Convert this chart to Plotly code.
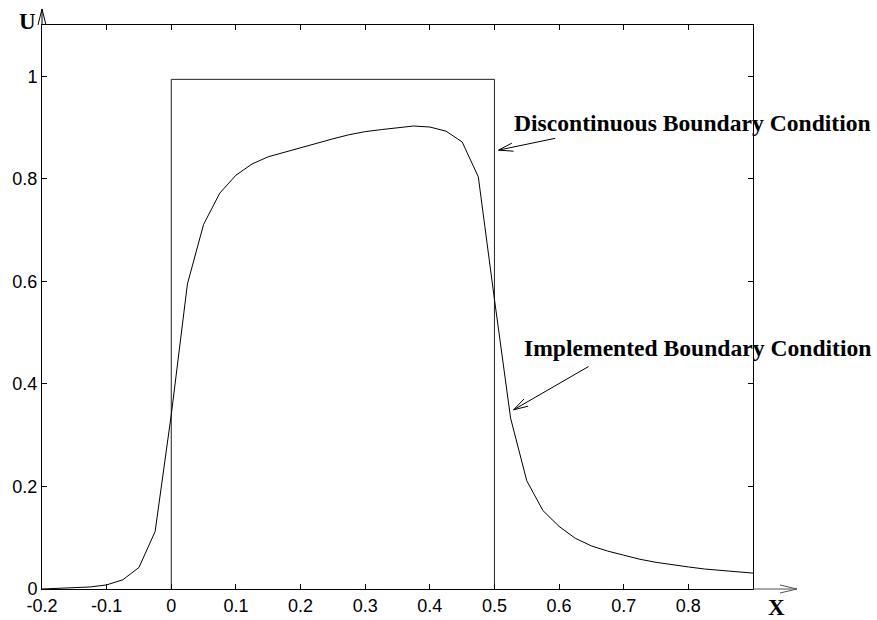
import math
import plotly.graph_objects as go

# ---- data ----
x_curve = [-0.2, -0.175, -0.15, -0.125, -0.1, -0.075, -0.05, -0.025, 0.0,
           0.025, 0.05, 0.075, 0.1, 0.125, 0.15, 0.175, 0.2, 0.225, 0.25,
           0.275, 0.3, 0.325, 0.35, 0.375, 0.4, 0.425, 0.45, 0.475, 0.5,
           0.525, 0.55, 0.575, 0.6, 0.625, 0.65, 0.675, 0.7, 0.725, 0.75,
           0.775, 0.8, 0.825, 0.85, 0.875, 0.9]
u_curve = [0.000, 0.001, 0.002, 0.004, 0.008, 0.018, 0.042, 0.112, 0.340,
           0.595, 0.711, 0.772, 0.807, 0.829, 0.843, 0.852, 0.860, 0.870, 0.878,
           0.886, 0.892, 0.896, 0.900, 0.903, 0.901, 0.893, 0.872, 0.804, 0.565,
           0.333, 0.211, 0.153, 0.122, 0.099, 0.084, 0.074, 0.066, 0.058, 0.052,
           0.047, 0.043, 0.039, 0.036, 0.033, 0.031]

x_square = [0.0, 0.0, 0.5, 0.5]
u_square = [0.0, 0.994, 0.994, 0.0]

x_ticks = [-0.2, -0.1, 0.0, 0.1, 0.2, 0.3, 0.4, 0.5, 0.6, 0.7, 0.8]
x_ticklabels = ["-0.2", "-0.1", "0", "0.1", "0.2", "0.3", "0.4", "0.5", "0.6", "0.7", "0.8"]
y_ticks = [0, 0.2, 0.4, 0.6, 0.8, 1.0]
y_ticklabels = ["0", "0.2", "0.4", "0.6", "0.8", "1"]

X_RANGE = [-0.2, 0.9]
Y_RANGE = [0.0, 1.1]

# ---- layout geometry ----
W, H = 877, 620
ML, MR, MT, MB = 42, 124, 25, 31
PW, PH = W - ML - MR, H - MT - MB
sx = PW / (X_RANGE[1] - X_RANGE[0])   # px per data unit x
sy = PH / (Y_RANGE[1] - Y_RANGE[0])   # px per data unit y

SERIF = "Liberation Serif, Times New Roman, serif"
SANS = "Liberation Sans, Arial, Helvetica, sans-serif"

fig = go.Figure()
fig.add_trace(go.Scatter(x=x_square, y=u_square, mode="lines",
                         line=dict(color="#222222", width=1), hoverinfo="skip"))
fig.add_trace(go.Scatter(x=x_curve, y=u_curve, mode="lines",
                         line=dict(color="black", width=1), hoverinfo="skip"))

shapes = []
annotations = []

def vhead_data(tx, ty, fx, fy, length=15, half_angle=16):
    """Open V arrowhead at (tx,ty) pointing from (fx,fy); data coords."""
    dxp = (tx - fx) * sx
    dyp = (ty - fy) * sy
    ang = math.atan2(dyp, dxp)
    pts = []
    for s in (1, -1):
        a = ang + math.pi + s * math.radians(half_angle)
        pts.append((tx + length * math.cos(a) / sx, ty + length * math.sin(a) / sy))
    return pts

def add_arrow(tail, tip):
    shapes.append(dict(type="line", xref="x", yref="y", x0=tail[0], y0=tail[1],
                       x1=tip[0], y1=tip[1], line=dict(color="black", width=1)))
    for p in vhead_data(tip[0], tip[1], tail[0], tail[1]):
        shapes.append(dict(type="line", xref="x", yref="y", x0=tip[0], y0=tip[1],
                           x1=p[0], y1=p[1], line=dict(color="black", width=1)))

add_arrow((0.594, 0.879), (0.5064, 0.856))
add_arrow((0.6457, 0.434), (0.5296, 0.3495))

annotations.append(dict(x=0.806, y=0.908, xref="x", yref="y", showarrow=False,
                        xanchor="center", yanchor="middle",
                        text="<b>Discontinuous Boundary Condition</b>",
                        font=dict(family=SERIF, size=23.6, color="black")))
annotations.append(dict(x=0.8135, y=0.47, xref="x", yref="y", showarrow=False,
                        xanchor="center", yanchor="middle",
                        text="<b>Implemented Boundary Condition</b>",
                        font=dict(family=SERIF, size=23.6, color="black")))

# axis arrows (paper coords)
px_x = 1.0 / PW
px_y = 1.0 / PH
# y-axis arrow
shapes.append(dict(type="line", xref="paper", yref="paper", x0=0, y0=1, x1=0, y1=1 + 16 * px_y,
                   line=dict(color="black", width=1)))
for s in (-1, 1):
    shapes.append(dict(type="line", xref="paper", yref="paper", x0=0, y0=1 + 16 * px_y,
                       x1=s * 4 * px_x, y1=1, line=dict(color="black", width=1)))
# x-axis arrow
shapes.append(dict(type="line", xref="paper", yref="paper", x0=1, y0=0, x1=1 + 44 * px_x, y1=0,
                   line=dict(color="#555555", width=1)))
for s in (-1, 1):
    shapes.append(dict(type="line", xref="paper", yref="paper", x0=1 + 44 * px_x, y0=0,
                       x1=1 + 27 * px_x, y1=s * 4 * px_y, line=dict(color="#555555", width=1)))

annotations.append(dict(x=-15 * px_x, y=1 + 4 * px_y, xref="paper", yref="paper", showarrow=False,
                        xanchor="center", yanchor="middle",
                        text="<b>U</b>", font=dict(family=SERIF, size=23, color="black")))
annotations.append(dict(x=1 + 23 * px_x, y=-18 * px_y, xref="paper", yref="paper", showarrow=False,
                        xanchor="center", yanchor="middle",
                        text="<b>X</b>", font=dict(family=SERIF, size=23, color="black")))

axis_common = dict(showgrid=False, zeroline=False, showline=True, linecolor="black", linewidth=1,
                   mirror="allticks", ticks="inside", ticklen=5, tickcolor="black", tickwidth=1,
                   automargin=False,
                   tickfont=dict(family=SANS, size=18, color="black"))

fig.update_layout(
    template="none",
    width=W, height=H,
    margin=dict(l=ML, r=MR, t=MT, b=MB, pad=0),
    plot_bgcolor="white", paper_bgcolor="white",
    showlegend=False,
    xaxis=dict(range=X_RANGE, tickvals=x_ticks, ticktext=x_ticklabels, **axis_common),
    yaxis=dict(range=Y_RANGE, tickvals=y_ticks, ticktext=y_ticklabels, **axis_common),
    shapes=shapes,
    annotations=annotations,
)

fig.write_html("out.html")
